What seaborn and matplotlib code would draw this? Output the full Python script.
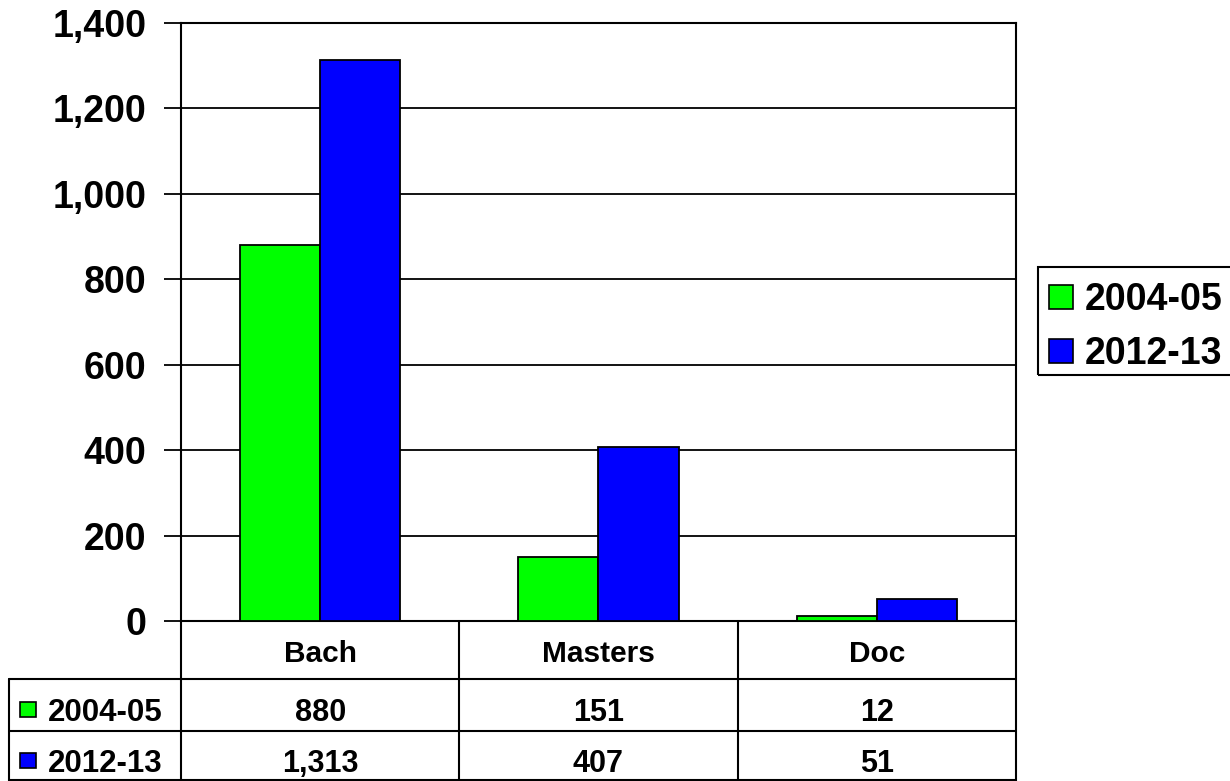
import pandas as pd
import matplotlib
matplotlib.use('Agg')
import matplotlib.pyplot as plt
import seaborn as sns
from matplotlib.patches import Patch, Rectangle
from matplotlib.ticker import FuncFormatter
from matplotlib.transforms import blended_transform_factory

levels = ['Bach', 'Masters', 'Doc']
years = ['2004-05', '2012-13']
counts_0405 = [880, 151, 12]
counts_1213 = [1313, 407, 51]
colors = {'2004-05': '#00FF00', '2012-13': '#0000FF'}
y_ticks = [0, 200, 400, 600, 800, 1000, 1200, 1400]

df = pd.DataFrame({
    'level': levels * 2,
    'year': [years[0]] * 3 + [years[1]] * 3,
    'count': counts_0405 + counts_1213,
})

sns.set_style('white')
plt.rcParams['font.family'] = ['Liberation Sans', 'DejaVu Sans']
plt.rcParams['font.weight'] = 'bold'
plt.rcParams['text.color'] = 'black'
plt.rcParams['ytick.color'] = 'black'
plt.rcParams['xtick.color'] = 'black'

W, H = 1230, 781
fig = plt.figure(figsize=(W / 100, H / 100), dpi=100)
# plot area in pixel terms: x 181..1016, y 23..621
ax = fig.add_axes([181 / W, (H - 621) / H, (1016 - 181) / W, (621 - 23) / H])

sns.barplot(data=df, x='level', y='count', hue='year', palette=colors,
            saturation=1, width=0.575, gap=0, edgecolor='black',
            linewidth=1.3, legend=False, ax=ax, zorder=3)

ax.set_ylim(0, 1400)
ax.set_xlim(-0.5, 2.5)
ax.set_yticks(y_ticks)
ax.yaxis.set_major_formatter(FuncFormatter(lambda v, p: f'{int(v):,}'))
ax.tick_params(axis='y', labelsize=27, length=12, width=1.3, pad=13,
               direction='out', left=True, color='black', labelcolor='black')
ax.set_xticks([])
ax.set_xlabel('')
ax.set_ylabel('')
for lab in ax.get_yticklabels():
    lab.set_fontweight('bold')
ax.yaxis.grid(True, color='black', linewidth=1.3)
ax.set_axisbelow(True)
for s in ax.spines.values():
    s.set_color('black')
    s.set_linewidth(1.5)

# data table under the chart
ah = 621 - 23
def yf(py):
    return (621 - py) / ah

aw = 1016 - 181
def xf(px):
    return (px - 181) / aw

bt = blended_transform_factory(ax.transData, ax.transAxes)
lw = 1.5
kw = dict(color='black', linewidth=lw, clip_on=False, transform=ax.transAxes)
# vertical lines
for px in [181, 1016]:
    ax.plot([xf(px), xf(px)], [yf(621), yf(781)], **kw)
for xd in [0.5, 1.5]:
    ax.plot([xd, xd], [yf(621), yf(781)], color='black', linewidth=lw,
            clip_on=False, transform=bt)
ax.plot([xf(9), xf(9)], [yf(679), yf(781)], **kw)
# horizontal lines
for py in [679, 731, 780]:
    ax.plot([xf(9), xf(1016)], [yf(py), yf(py)], **kw)

# header row
for i, name in enumerate(levels):
    ax.text(i, yf(662), name, transform=bt, ha='center', va='baseline',
            fontsize=21.5, fontweight='bold')

rows = [counts_0405, counts_1213]
baselines = [721, 772]
for yr, vals, by in zip(years, rows, baselines):
    ax.add_patch(Rectangle((xf(20), yf(by - 4)), 16 / aw, 15 / ah,
                           transform=ax.transAxes, clip_on=False,
                           facecolor=colors[yr], edgecolor='black',
                           linewidth=1.2))
    ax.text(xf(48), yf(by), yr, transform=ax.transAxes, ha='left',
            va='baseline', fontsize=22.5, fontweight='bold')
    for i, v in enumerate(vals):
        ax.text(i, yf(by), f'{v:,}', transform=bt, ha='center',
                va='baseline', fontsize=22, fontweight='bold')

# legend, with its box drawn separately (runs off the right edge)
handles = [Patch(facecolor=colors[y], edgecolor='black', linewidth=1.2,
                 label=y) for y in years]
leg = fig.legend(handles=handles, loc='upper left',
                 bbox_to_anchor=(1034 / W, 1 - 267 / H),
                 prop={'size': 27, 'weight': 'bold'},
                 handlelength=0.64, handleheight=0.6, handletextpad=0.32,
                 labelspacing=0.48, borderpad=0.4, borderaxespad=0,
                 frameon=False)
fig.patches.append(Rectangle((1038 / W, 1 - 375 / H), 200 / W, 108 / H,
                             transform=fig.transFigure, facecolor='none',
                             edgecolor='black', linewidth=1.5))

fig.savefig('out.png', dpi=100)
plt.close(fig)
